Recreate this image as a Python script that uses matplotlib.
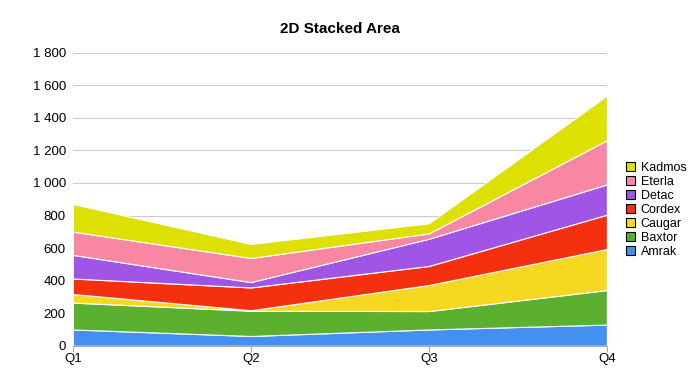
import numpy as np
import matplotlib.pyplot as plt
from matplotlib.patches import Patch

plt.rcParams['font.family'] = ['Liberation Sans', 'DejaVu Sans']

quarters = ['Q1', 'Q2', 'Q3', 'Q4']
series_names = ['Amrak', 'Baxtor', 'Caugar', 'Cordex', 'Detac', 'Eterla', 'Kadmos']
amrak = [100, 60, 100, 130]
baxtor = [165, 155, 113, 212]
caugar = [53, 3, 160, 252]
cordex = [95, 140, 117, 211]
detac = [145, 33, 167, 186]
eterla = [143, 148, 33, 271]
kadmos = [170, 86, 62, 274]
colors = ['#4390f0', '#5bb030', '#f6d820', '#f5300e', '#a055e6', '#f787a2', '#dde000']

values = [amrak, baxtor, caugar, cordex, detac, eterla, kadmos]

fig = plt.figure(figsize=(7, 3.75), dpi=100)
ax = fig.add_axes([0.104, 0.078, 0.763, 0.7815])

x = np.arange(len(quarters))
polys = ax.stackplot(x, *values, colors=colors, edgecolor='white', linewidth=0.8)

ax.set_xlim(0, 3)
ax.set_ylim(0, 1800)
ax.set_yticks(range(0, 1801, 200))
ax.set_yticklabels(['{:,}'.format(v).replace(',', ' ') for v in range(0, 1801, 200)])
ax.set_xticks(x)
ax.set_xticklabels(quarters)
ax.grid(axis='y', color='#cccccc', linewidth=0.8)
ax.set_axisbelow(True)
for s in ['top', 'right', 'left']:
    ax.spines[s].set_visible(False)
ax.spines['bottom'].set_color('#aaaaaa')
ax.tick_params(axis='y', length=0, labelsize=9.5, pad=5)
ax.tick_params(axis='x', length=4, color='#aaaaaa', labelsize=9.5, pad=1)

ax.set_title('2D Stacked Area', fontsize=11, fontweight='bold', pad=14)

handles = [Patch(facecolor=c, edgecolor='black', linewidth=0.8) for c in colors]
leg = fig.legend(handles[::-1], series_names[::-1], loc='center left',
                 bbox_to_anchor=(0.885, 0.44), frameon=False, fontsize=9,
                 handlelength=0.75, handleheight=0.75, handletextpad=0.45,
                 labelspacing=0.16, borderpad=0)

fig.savefig('out.png', dpi=100)
